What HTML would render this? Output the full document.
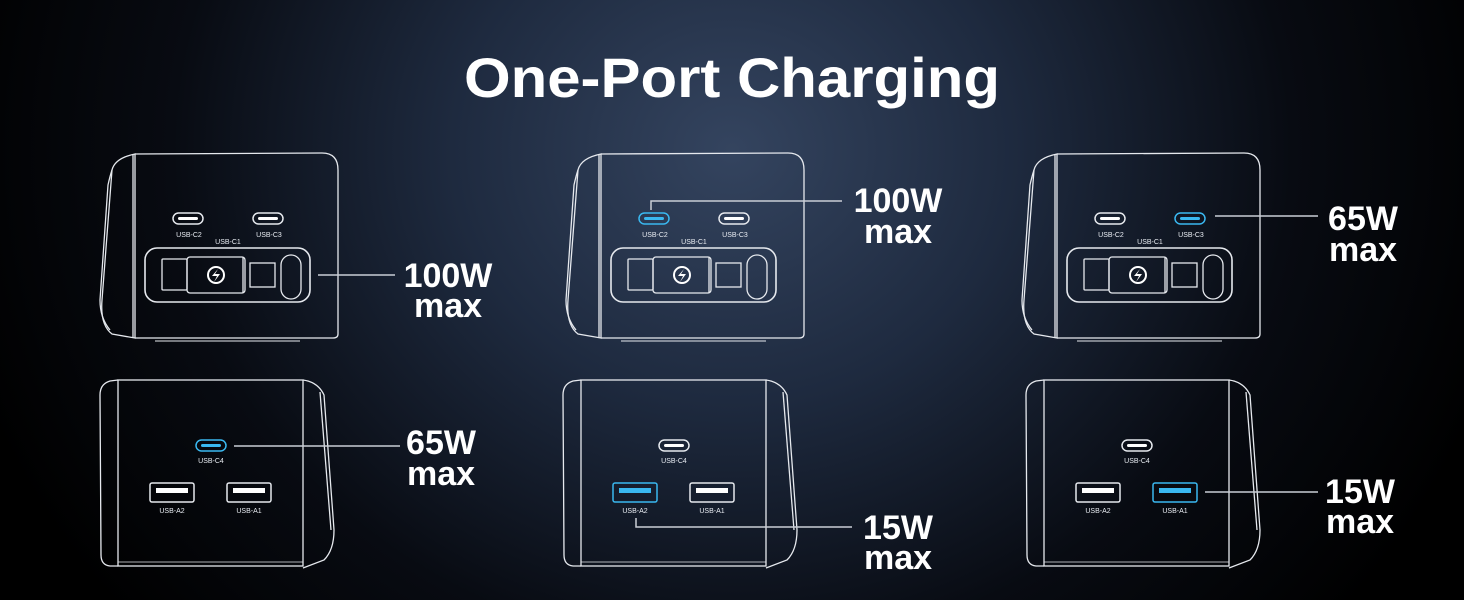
<!DOCTYPE html>
<html><head><meta charset="utf-8"><style>
html,body{margin:0;padding:0;background:#000;}
svg{display:block;}
text{font-family:"Liberation Sans",sans-serif;fill:#fff;}
.lbl{font-size:7px;fill:#e8ecf2;}
.big{font-size:34px;font-weight:bold;}
</style></head><body>
<svg width="1464" height="600" viewBox="0 0 1464 600" xmlns="http://www.w3.org/2000/svg">
<defs>
<radialGradient id="bg" cx="732" cy="150" r="800" gradientUnits="userSpaceOnUse" gradientTransform="translate(732 150) scale(1 0.9) translate(-732 -150)">
<stop offset="0" stop-color="#34445f"/>
<stop offset="0.35" stop-color="#1e2a3f"/>
<stop offset="0.7" stop-color="#080b12"/>
<stop offset="1" stop-color="#000"/>
</radialGradient>
<g id="top" fill="none" stroke="#e6e9ee" stroke-width="1.3">
<path d="M135 154 L322 153 Q338 153 338 170 L338 334 Q338 338 333 338 L135 338"/>
<path d="M135 154 Q115 158 112 170 L102 300 Q100 325 112 334 L135 338 Z"/>
<path d="M112 170 Q110 176 108 185 L100 300 Q100 318 110 330"/>
<line x1="133" y1="154" x2="133" y2="338"/>
<line x1="155" y1="341" x2="300" y2="341" stroke-width="1"/>
<rect x="145" y="248" width="165" height="54" rx="12" stroke-width="1.6"/>
<rect x="162" y="259" width="25" height="31" rx="1"/>
<rect x="187" y="257" width="58" height="36" rx="3"/>
<line x1="243" y1="257" x2="243" y2="293"/>
<rect x="250" y="263" width="25" height="24"/>
<rect x="281" y="255" width="20" height="44" rx="10"/>
<circle cx="216" cy="275" r="8" stroke="#fff" stroke-width="2"/>
<path d="M218 269 L212 276 L217 276 L214 282 L220 274 L215 274 Z" fill="#fff" stroke="none"/>
<text class="lbl" x="189" y="237" text-anchor="middle" stroke="none">USB-C2</text>
<text class="lbl" x="269" y="237" text-anchor="middle" stroke="none">USB-C3</text>
<text class="lbl" x="228" y="244" text-anchor="middle" stroke="none">USB-C1</text>
</g>
<g id="bot" fill="none" stroke="#e6e9ee" stroke-width="1.3">
<path d="M118 380 L110 381 Q100 384 100 395 L101 555 Q101 565 110 566 L118 566"/>
<rect x="118" y="380" width="185" height="186"/>
<path d="M303 380 Q318 382 324 395 L334 530 Q334 550 324 560 L303 568"/>
<path d="M320 392 L331 530"/>
<line x1="118" y1="562" x2="303" y2="562" stroke-width="0.8"/>
<text class="lbl" x="211" y="463" text-anchor="middle" stroke="none">USB-C4</text>
<text class="lbl" x="172" y="513" text-anchor="middle" stroke="none">USB-A2</text>
<text class="lbl" x="249" y="513" text-anchor="middle" stroke="none">USB-A1</text>
</g>
</defs>
<rect width="1464" height="600" fill="url(#bg)"/>
<text x="732" y="97" text-anchor="middle" font-size="56" font-weight="bold" textLength="536" lengthAdjust="spacingAndGlyphs">One-Port Charging</text>

<!-- top devices -->
<g>
<use href="#top"/>
<rect x="173" y="213" width="30" height="11" rx="5.5" fill="none" stroke="#e6e9ee" stroke-width="1.5"/>
<rect x="253" y="213" width="30" height="11" rx="5.5" fill="none" stroke="#e6e9ee" stroke-width="1.5"/>
<rect x="178" y="217" width="20" height="3" rx="1.5" fill="#fff"/>
<rect x="258" y="217" width="20" height="3" rx="1.5" fill="#fff"/>
</g>
<g transform="translate(466 0)">
<use href="#top"/>
<rect x="173" y="213" width="30" height="11" rx="5.5" fill="none" stroke="#3ab8f0" stroke-width="1.5"/>
<rect x="253" y="213" width="30" height="11" rx="5.5" fill="none" stroke="#e6e9ee" stroke-width="1.5"/>
<rect x="178" y="217" width="20" height="3" rx="1.5" fill="#3ab8f0"/>
<rect x="258" y="217" width="20" height="3" rx="1.5" fill="#fff"/>
</g>
<g transform="translate(922 0)">
<use href="#top"/>
<rect x="173" y="213" width="30" height="11" rx="5.5" fill="none" stroke="#e6e9ee" stroke-width="1.5"/>
<rect x="253" y="213" width="30" height="11" rx="5.5" fill="none" stroke="#3ab8f0" stroke-width="1.5"/>
<rect x="178" y="217" width="20" height="3" rx="1.5" fill="#fff"/>
<rect x="258" y="217" width="20" height="3" rx="1.5" fill="#3ab8f0"/>
</g>

<!-- bottom devices -->
<g>
<use href="#bot"/>
<rect x="196" y="440" width="30" height="11" rx="5.5" fill="none" stroke="#3ab8f0" stroke-width="1.5"/>
<rect x="201" y="444" width="20" height="3" rx="1.5" fill="#3ab8f0"/>
<rect x="150" y="483" width="44" height="19" rx="2" fill="none" stroke="#e6e9ee" stroke-width="1.5"/>
<rect x="227" y="483" width="44" height="19" rx="2" fill="none" stroke="#e6e9ee" stroke-width="1.5"/>
<rect x="156" y="488" width="32" height="5" fill="#fff"/>
<rect x="233" y="488" width="32" height="5" fill="#fff"/>
</g>
<g transform="translate(463 0)">
<use href="#bot"/>
<rect x="196" y="440" width="30" height="11" rx="5.5" fill="none" stroke="#e6e9ee" stroke-width="1.5"/>
<rect x="201" y="444" width="20" height="3" rx="1.5" fill="#fff"/>
<rect x="150" y="483" width="44" height="19" rx="2" fill="none" stroke="#3ab8f0" stroke-width="1.5"/>
<rect x="227" y="483" width="44" height="19" rx="2" fill="none" stroke="#e6e9ee" stroke-width="1.5"/>
<rect x="156" y="488" width="32" height="5" fill="#3ab8f0"/>
<rect x="233" y="488" width="32" height="5" fill="#fff"/>
</g>
<g transform="translate(926 0)">
<use href="#bot"/>
<rect x="196" y="440" width="30" height="11" rx="5.5" fill="none" stroke="#e6e9ee" stroke-width="1.5"/>
<rect x="201" y="444" width="20" height="3" rx="1.5" fill="#fff"/>
<rect x="150" y="483" width="44" height="19" rx="2" fill="none" stroke="#e6e9ee" stroke-width="1.5"/>
<rect x="227" y="483" width="44" height="19" rx="2" fill="none" stroke="#3ab8f0" stroke-width="1.5"/>
<rect x="156" y="488" width="32" height="5" fill="#fff"/>
<rect x="233" y="488" width="32" height="5" fill="#3ab8f0"/>
</g>

<!-- leader lines -->
<g stroke="#c9ced6" stroke-width="1.5" fill="none">
<line x1="318" y1="275" x2="395" y2="275"/>
<path d="M651 210 L651 201 L842 201"/>
<line x1="1215" y1="216" x2="1318" y2="216"/>
<line x1="234" y1="446" x2="400" y2="446"/>
<path d="M636 518 L636 527 L852 527"/>
<line x1="1205" y1="492" x2="1318" y2="492"/>
</g>
<!-- labels -->
<g text-anchor="middle">
<text class="big" x="448" y="287">100W</text>
<text class="big" x="448" y="317">max</text>
<text class="big" x="898" y="212">100W</text>
<text class="big" x="898" y="243">max</text>
<text class="big" x="1363" y="230">65W</text>
<text class="big" x="1363" y="261">max</text>
<text class="big" x="441" y="454">65W</text>
<text class="big" x="441" y="485">max</text>
<text class="big" x="898" y="539">15W</text>
<text class="big" x="898" y="569">max</text>
<text class="big" x="1360" y="503">15W</text>
<text class="big" x="1360" y="533">max</text>
</g>
</svg>
</body></html>
